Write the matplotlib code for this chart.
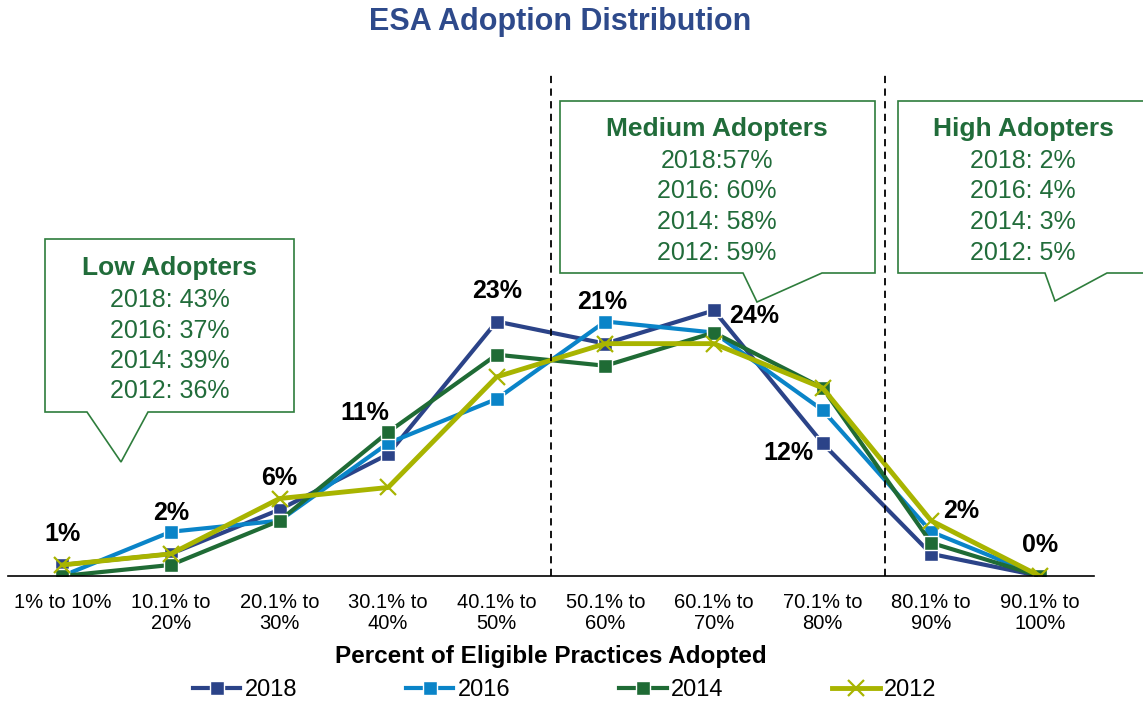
import matplotlib.pyplot as plt
from matplotlib.patches import Polygon

plt.rcParams['font.family'] = ['Liberation Sans', 'DejaVu Sans']

categories = ['1% to 10%', '10.1% to\n20%', '20.1% to\n30%', '30.1% to\n40%', '40.1% to\n50%',
              '50.1% to\n60%', '60.1% to\n70%', '70.1% to\n80%', '80.1% to\n90%', '90.1% to\n100%']
years = ['2018', '2016', '2014', '2012']
vals_2018 = [1, 2, 6, 11, 23, 21, 24, 12, 2, 0]
vals_2016 = [0, 4, 5, 12, 16, 23, 22, 15, 4, 0]
vals_2014 = [0, 1, 5, 13, 20, 19, 22, 17, 3, 0]
vals_2012 = [1, 2, 7, 8, 18, 21, 21, 17, 5, 0]

low_share = ['43%', '37%', '39%', '36%']
medium_share = ['57%', '60%', '58%', '59%']
high_share = ['2%', '4%', '3%', '5%']

W, H = 1143, 704
green_txt = '#216C3A'
box_edge = '#2E7D3C'

fig = plt.figure(figsize=(W / 100, H / 100), dpi=100)
ax = fig.add_axes([8 / W, 128 / H, 1086 / W, 509 / H])


def fx(px):
    return px / W


def fy(py):
    return 1 - py / H


x = list(range(len(categories)))
styles = [
    (vals_2018, dict(color='#2B4388', marker='s', ms=10, mec='white', mew=1, lw=3)),
    (vals_2016, dict(color='#0A84C8', marker='s', ms=10, mec='white', mew=1, lw=3)),
    (vals_2014, dict(color='#1F6B35', marker='s', ms=10, mec='white', mew=1, lw=3)),
    (vals_2012, dict(color='#A8B400', marker='x', ms=12, mew=1.6, lw=3.5)),
]
lines = []
for (vals, st), yr in zip(styles, years):
    ln, = ax.plot(x, vals, label=yr, **st)
    lines.append(ln)

# data labels for 2018 (offsets in pixels)
offsets = [(0, 31), (0, 41), (0, 32), (-23, 41), (0, 30), (-3, 42), (40, -6), (-34, -10), (30, 43), (0, 31)]
for i, v in enumerate(vals_2018):
    ax.annotate(f'{v}%', (i, v), xytext=offsets[i], textcoords='offset pixels',
                ha='center', va='center', fontsize=18, fontweight='bold')

ax.set_xlim(-0.5, 9.5)
ax.set_ylim(0, 46)
ax.set_yticks([])
ax.set_xticks(x)
ax.set_xticklabels(categories, fontsize=14.5, linespacing=1.15)
ax.tick_params(axis='x', length=0, pad=12)
for s in ['top', 'right', 'left']:
    ax.spines[s].set_visible(False)
ax.spines['bottom'].set_linewidth(1.2)

for xv in [4.5, 7.58]:
    ax.axvline(xv, ymin=0, ymax=0.989, color='black', lw=1.3, ls=(0, (4, 3)))

fig.text(fx(560), fy(22), 'ESA Adoption Distribution', ha='center', va='center',
         fontsize=22, fontweight='bold', color='#2E4A8B')
fig.text(fx(551), fy(657), 'Percent of Eligible Practices Adopted', ha='center', va='center',
         fontsize=17.5, fontweight='bold')

fig.legend(handles=lines, loc='center', bbox_to_anchor=(fx(565), fy(690)), ncol=4, frameon=False,
           fontsize=17, handlelength=2.0, handletextpad=0.2, columnspacing=4.6)

# callout boxes
callouts = [
    ([(45, 239), (294, 239), (294, 412), (148, 412), (121, 462), (87, 412), (45, 412)],
     170, 268, 'Low Adopters', ['2018: ' + low_share[0], '2016: ' + low_share[1],
                               '2014: ' + low_share[2], '2012: ' + low_share[3]]),
    ([(560, 101), (875, 101), (875, 273), (822, 273), (757, 302), (743, 273), (560, 273)],
     717, 129, 'Medium Adopters', ['2018:' + medium_share[0], '2016: ' + medium_share[1],
                                  '2014: ' + medium_share[2], '2012: ' + medium_share[3]]),
    ([(898, 101), (1160, 101), (1160, 273), (1107, 273), (1055, 301), (1045, 273), (898, 273)],
     1023, 129, 'High Adopters', ['2018: ' + high_share[0], '2016: ' + high_share[1],
                                 '2014: ' + high_share[2], '2012: ' + high_share[3]]),
]
for pts, cx, ty, title, rows in callouts:
    poly = Polygon([(fx(a), fy(b)) for a, b in pts], closed=True, transform=fig.transFigure,
                   facecolor='white', edgecolor=box_edge, lw=1.2, zorder=5)
    fig.add_artist(poly)
    fig.text(fx(cx), fy(ty), title, ha='center', va='center', fontsize=19,
             fontweight='bold', color=green_txt, zorder=6)
    for k, r in enumerate(rows):
        fig.text(fx(cx), fy(ty + 32 + 30.5 * k), r, ha='center', va='center', fontsize=18,
                 color=green_txt, zorder=6)

fig.savefig('out.png', dpi=100)
